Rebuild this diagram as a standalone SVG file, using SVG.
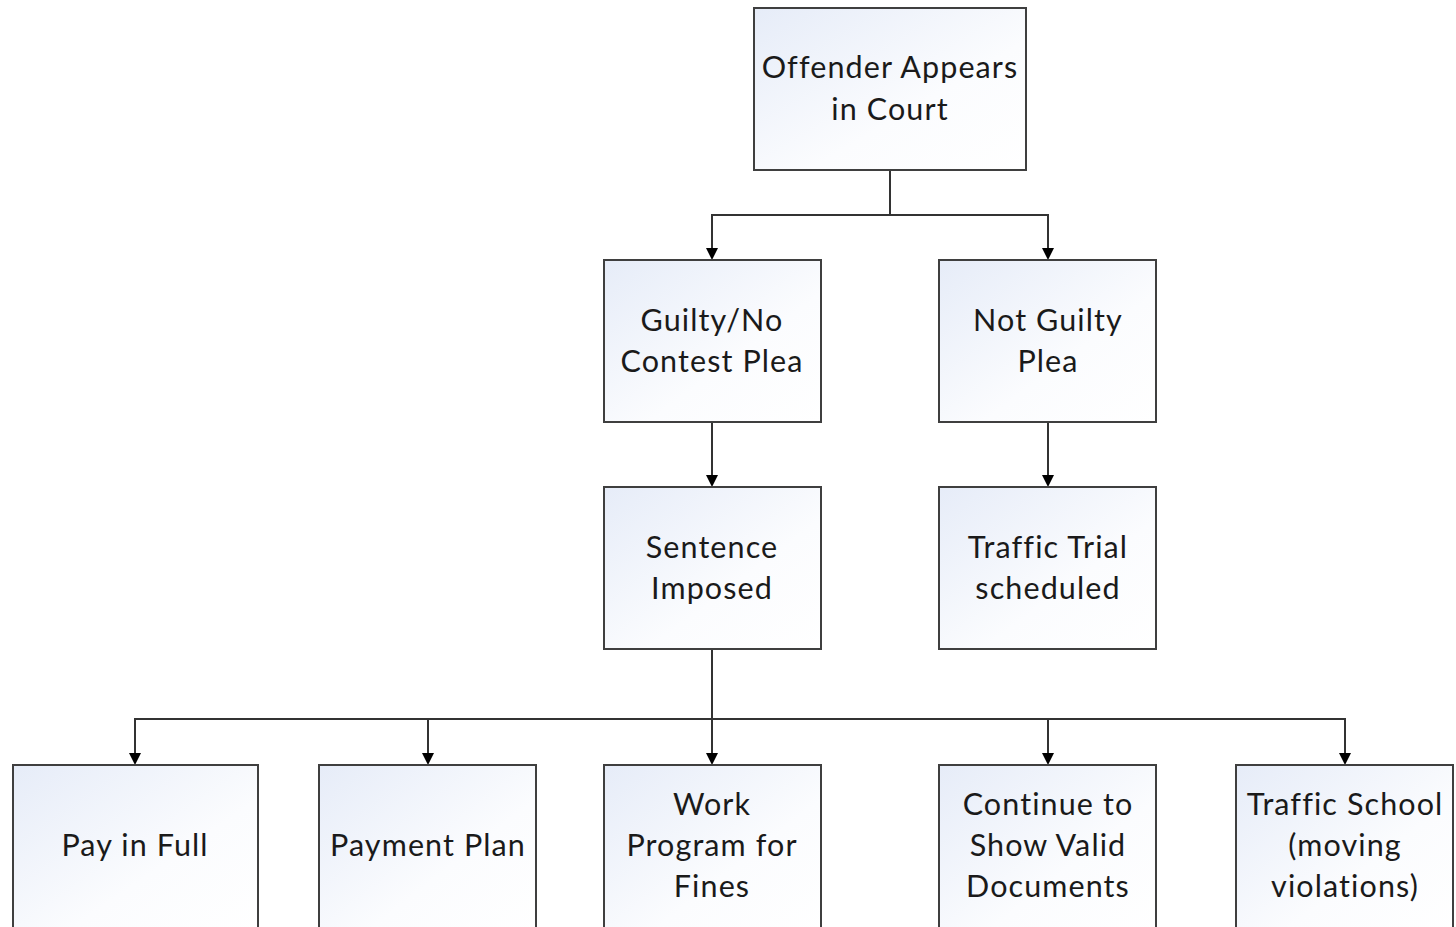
<svg xmlns="http://www.w3.org/2000/svg" width="1456" height="927" viewBox="0 0 1456 927">
<style>
.box{fill:url(#g);stroke:#3f3f3f;stroke-width:2}
.t{font-family:Lato,"Open Sans","Liberation Sans",sans-serif;font-size:30.5px;letter-spacing:1.1px;fill:#1a1a1a;text-anchor:middle}
.c{fill:none;stroke:#333;stroke-width:2}
</style>
<defs>
<linearGradient id="g" x1="0" y1="0" x2="1" y2="1">
<stop offset="0" stop-color="#e6ecf8"/>
<stop offset="0.6" stop-color="#fbfcfe"/>
<stop offset="1" stop-color="#ffffff"/>
</linearGradient>
</defs>
<rect width="1456" height="927" fill="#fff"/>
<g id="connectors">
<path class="c" d="M890,170 V215 H712 V248"/>
<path class="c" d="M890,215 H1048 V248"/>
<path class="c" d="M712,422 V475"/>
<path class="c" d="M1048,422 V475"/>
<path class="c" d="M712,649 V753"/>
<path class="c" d="M712,719 H135 V753"/>
<path class="c" d="M428,719 V753"/>
<path class="c" d="M712,719 H1345 V753"/>
<path class="c" d="M1048,719 V753"/>
<g fill="#000">
<path d="M706,248 L718,248 L712,260 Z"/>
<path d="M1042,248 L1054,248 L1048,260 Z"/>
<path d="M706,475 L718,475 L712,487 Z"/>
<path d="M1042,475 L1054,475 L1048,487 Z"/>
<path d="M129,753 L141,753 L135,765 Z"/>
<path d="M422,753 L434,753 L428,765 Z"/>
<path d="M706,753 L718,753 L712,765 Z"/>
<path d="M1042,753 L1054,753 L1048,765 Z"/>
<path d="M1339,753 L1351,753 L1345,765 Z"/>
</g>
</g>
<g id="n1"><rect class="box" x="754" y="8" width="272" height="162"/><text class="t" x="890" y="78">Offender Appears</text><text class="t" x="890" y="120">in Court</text></g>
<g id="n2"><rect class="box" x="604" y="260" width="217" height="162"/><text class="t" x="712" y="331">Guilty/No</text><text class="t" x="712" y="372">Contest Plea</text></g>
<g id="n3"><rect class="box" x="939" y="260" width="217" height="162"/><text class="t" x="1048" y="331">Not Guilty</text><text class="t" x="1048" y="372">Plea</text></g>
<g id="n4"><rect class="box" x="604" y="487" width="217" height="162"/><text class="t" x="712" y="558">Sentence</text><text class="t" x="712" y="599">Imposed</text></g>
<g id="n5"><rect class="box" x="939" y="487" width="217" height="162"/><text class="t" x="1048" y="558">Traffic Trial</text><text class="t" x="1048" y="599">scheduled</text></g>
<g id="n6"><rect class="box" x="13" y="765" width="245" height="170"/><text class="t" x="135" y="856">Pay in Full</text></g>
<g id="n7"><rect class="box" x="319" y="765" width="217" height="170"/><text class="t" x="428" y="856">Payment Plan</text></g>
<g id="n8"><rect class="box" x="604" y="765" width="217" height="170"/><text class="t" x="712" y="815">Work</text><text class="t" x="712" y="856">Program for</text><text class="t" x="712" y="897">Fines</text></g>
<g id="n9"><rect class="box" x="939" y="765" width="217" height="170"/><text class="t" x="1048" y="815">Continue to</text><text class="t" x="1048" y="856">Show Valid</text><text class="t" x="1048" y="897">Documents</text></g>
<g id="n10"><rect class="box" x="1236" y="765" width="217" height="170"/><text class="t" x="1345" y="815">Traffic School</text><text class="t" x="1345" y="856">(moving</text><text class="t" x="1345" y="897">violations)</text></g>
</svg>
